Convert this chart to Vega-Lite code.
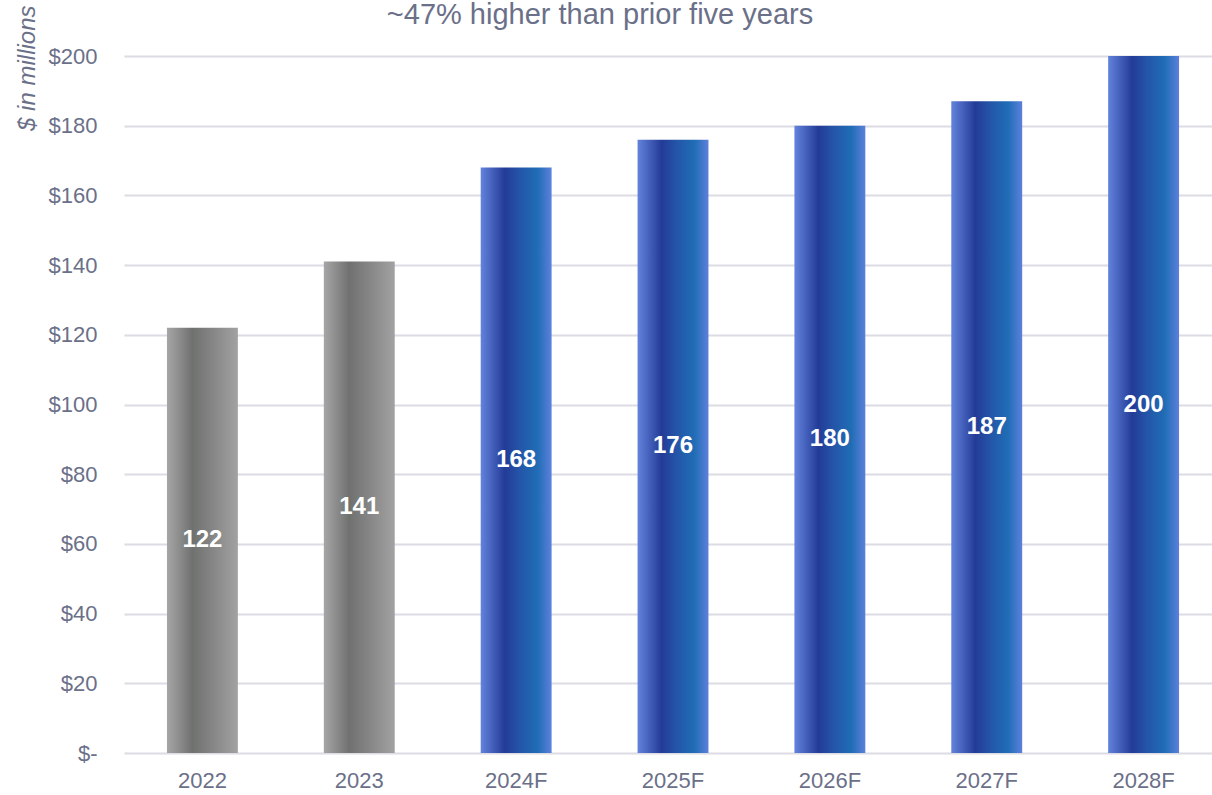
{
  "$schema": "https://vega.github.io/schema/vega-lite/v6.json",
  "width": 1088,
  "height": 697,
  "autosize": {"type": "none"},
  "padding": {"left": 124, "top": 56, "right": 0, "bottom": 42},
  "background": "white",
  "config": {
    "view": {"stroke": null},
    "font": "Liberation Sans, Arial, sans-serif"
  },
  "title": {
    "text": "~47% higher than prior five years",
    "fontSize": 29,
    "fontWeight": "normal",
    "color": "#6b7089",
    "anchor": "middle",
    "frame": "group",
    "dx": -68,
    "dy": 79,
    "baseline": "alphabetic",
    "offset": 31
  },
  "data": {
    "values": [
      {"year": "2022", "value": 122, "kind": "actual"},
      {"year": "2023", "value": 141, "kind": "actual"},
      {"year": "2024F", "value": 168, "kind": "forecast"},
      {"year": "2025F", "value": 176, "kind": "forecast"},
      {"year": "2026F", "value": 180, "kind": "forecast"},
      {"year": "2027F", "value": 187, "kind": "forecast"},
      {"year": "2028F", "value": 200, "kind": "forecast"}
    ]
  },
  "encoding": {
    "x": {
      "field": "year",
      "type": "ordinal",
      "sort": null,
      "scale": {"paddingInner": 0.548, "paddingOuter": 0.242, "align": 0.566},
      "axis": {
        "title": null,
        "labelAngle": 0,
        "ticks": false,
        "domain": false,
        "labelFontSize": 22,
        "labelColor": "#6b7089",
        "labelPadding": 17
      }
    }
  },
  "layer": [
    {
      "transform": [{"filter": "datum.kind == 'actual'"}],
      "mark": {
        "type": "bar",
        "color": {
          "gradient": "linear",
          "x1": 0, "x2": 1, "y1": 0, "y2": 0,
          "stops": [
            {"offset": 0, "color": "#a6a6a6"},
            {"offset": 0.36, "color": "#6f716f"},
            {"offset": 0.65, "color": "#868686"},
            {"offset": 1, "color": "#a2a2a2"}
          ]
        }
      },
      "encoding": {
        "y": {
          "field": "value",
          "type": "quantitative",
          "scale": {"domain": [0, 200], "nice": false},
          "axis": {
            "values": [0, 20, 40, 60, 80, 100, 120, 140, 160, 180, 200],
            "labelExpr": "datum.value == 0 ? '$-' : '$' + datum.value",
            "title": "$ in millions",
            "titleFontStyle": "italic",
            "titleFontWeight": "normal",
            "titleFontSize": 24,
            "titleColor": "#6b7089",
            "titleAngle": -90,
            "titleAlign": "right",
            "titleBaseline": "alphabetic",
            "titleX": -90,
            "titleY": -51,
            "ticks": false,
            "domain": false,
            "labelFontSize": 22,
            "labelColor": "#6b7089",
            "labelPadding": 27,
            "gridColor": "#dcdce4",
            "gridWidth": 2
          }
        }
      }
    },
    {
      "transform": [{"filter": "datum.kind == 'forecast'"}],
      "mark": {
        "type": "bar",
        "color": {
          "gradient": "linear",
          "x1": 0, "x2": 1, "y1": 0, "y2": 0,
          "stops": [
            {"offset": 0, "color": "#6383dc"},
            {"offset": 0.34, "color": "#233b97"},
            {"offset": 0.55, "color": "#2455a8"},
            {"offset": 0.8, "color": "#1f6db5"},
            {"offset": 1, "color": "#5d80dc"}
          ]
        }
      },
      "encoding": {
        "y": {"field": "value", "type": "quantitative"}
      }
    },
    {
      "mark": {
        "type": "text",
        "color": "white",
        "fontWeight": "bold",
        "fontSize": 24,
        "baseline": "middle"
      },
      "encoding": {
        "y": {
          "field": "value",
          "type": "quantitative",
          "scale": {"domain": [0, 400], "nice": false},
          "axis": null
        },
        "text": {"field": "value", "type": "quantitative"}
      }
    }
  ],
  "resolve": {"scale": {"y": "independent"}}
}
